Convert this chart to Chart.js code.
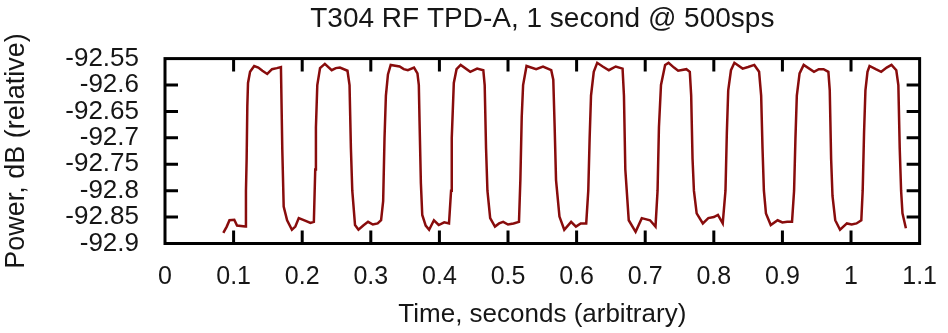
<!DOCTYPE html>
<html>
<head>
<meta charset="utf-8">
<script src="https://cdn.jsdelivr.net/npm/chart.js@4/dist/chart.umd.min.js"></script>
<style>
  html, body { margin: 0; padding: 0; background: #ffffff; }
  #wrap { width: 948px; height: 333px; }
</style>
</head>
<body>
<div id="wrap"><canvas id="c" width="948" height="333"></canvas></div>
<script>
// ---- data ----
const chartTitle = 'T304 RF TPD-A, 1 second @ 500sps';
const xAxisTitle = 'Time, seconds (arbitrary)';
const yAxisTitle = 'Power, dB (relative)';

const xTickValues = [0, 0.1, 0.2, 0.3, 0.4, 0.5, 0.6, 0.7, 0.8, 0.9, 1, 1.1];
const xTickLabels = ['0', '0.1', '0.2', '0.3', '0.4', '0.5', '0.6', '0.7', '0.8', '0.9', '1', '1.1'];
const yTickValues = [-92.9, -92.85, -92.8, -92.75, -92.7, -92.65, -92.6, -92.55];
const yTickLabels = ['-92.9', '-92.85', '-92.8', '-92.75', '-92.7', '-92.65', '-92.6', '-92.55'];

const timeSec = [
  0.085, 0.090, 0.094, 0.101, 0.105, 0.117, 0.118, 0.119, 0.120, 0.121, 0.124, 0.130, 0.136, 0.142, 0.149, 0.156, 0.163, 0.169,
  0.171, 0.173, 0.178, 0.185, 0.190, 0.195, 0.205, 0.212, 0.217, 0.219, 0.220, 0.222, 0.226, 0.233, 0.243, 0.249, 0.255, 0.266,
  0.269, 0.271, 0.273, 0.277, 0.282, 0.289, 0.296, 0.303, 0.310, 0.315, 0.318, 0.320, 0.322, 0.325, 0.329, 0.342, 0.348, 0.354,
  0.363, 0.368, 0.370, 0.371, 0.373, 0.375, 0.380, 0.385, 0.392, 0.399, 0.407, 0.414, 0.417, 0.418, 0.421, 0.425, 0.431, 0.445,
  0.455, 0.464, 0.466, 0.468, 0.470, 0.474, 0.481, 0.487, 0.493, 0.500, 0.508, 0.516, 0.518, 0.520, 0.522, 0.527, 0.541, 0.551,
  0.563, 0.566, 0.568, 0.570, 0.575, 0.582, 0.592, 0.599, 0.606, 0.614, 0.617, 0.619, 0.621, 0.625, 0.630, 0.638, 0.647, 0.657,
  0.667, 0.669, 0.671, 0.676, 0.686, 0.695, 0.707, 0.715, 0.718, 0.720, 0.723, 0.729, 0.734, 0.742, 0.748, 0.760, 0.765, 0.767,
  0.769, 0.771, 0.775, 0.784, 0.792, 0.800, 0.806, 0.813, 0.817, 0.819, 0.821, 0.825, 0.830, 0.842, 0.850, 0.859, 0.866, 0.869,
  0.871, 0.873, 0.876, 0.883, 0.893, 0.900, 0.907, 0.914, 0.917, 0.919, 0.921, 0.925, 0.931, 0.946, 0.953, 0.960, 0.967, 0.969,
  0.971, 0.973, 0.977, 0.984, 0.994, 1.001, 1.008, 1.015, 1.017, 1.019, 1.021, 1.024, 1.027, 1.036, 1.044, 1.052, 1.059, 1.066,
  1.069, 1.071, 1.073, 1.075, 1.080
];
const powerDb = [
  -92.880, -92.868, -92.856, -92.855, -92.866, -92.868, -92.800, -92.740, -92.640, -92.596, -92.575, -92.564, -92.567, -92.573, -92.579, -92.570, -92.568, -92.566,
  -92.723, -92.830, -92.856, -92.874, -92.868, -92.852, -92.857, -92.861, -92.859, -92.760, -92.680, -92.600, -92.568, -92.560, -92.572, -92.568, -92.567, -92.573,
  -92.600, -92.720, -92.800, -92.865, -92.874, -92.866, -92.859, -92.864, -92.862, -92.856, -92.820, -92.700, -92.620, -92.580, -92.562, -92.565, -92.570, -92.572,
  -92.567, -92.578, -92.600, -92.666, -92.786, -92.846, -92.866, -92.874, -92.856, -92.865, -92.860, -92.862, -92.800, -92.700, -92.596, -92.570, -92.562, -92.575,
  -92.569, -92.572, -92.600, -92.720, -92.800, -92.852, -92.868, -92.862, -92.859, -92.864, -92.862, -92.859, -92.780, -92.660, -92.600, -92.564, -92.570, -92.565,
  -92.572, -92.590, -92.680, -92.780, -92.849, -92.874, -92.859, -92.868, -92.862, -92.862, -92.800, -92.700, -92.620, -92.575, -92.558, -92.565, -92.572, -92.565,
  -92.569, -92.620, -92.760, -92.856, -92.878, -92.852, -92.856, -92.868, -92.800, -92.680, -92.600, -92.562, -92.558, -92.567, -92.573, -92.570, -92.575, -92.620,
  -92.740, -92.800, -92.843, -92.862, -92.852, -92.850, -92.846, -92.862, -92.800, -92.690, -92.610, -92.572, -92.558, -92.569, -92.566, -92.562, -92.575, -92.620,
  -92.720, -92.800, -92.843, -92.865, -92.856, -92.860, -92.859, -92.859, -92.800, -92.700, -92.620, -92.578, -92.562, -92.575, -92.570, -92.570, -92.575, -92.610,
  -92.740, -92.810, -92.856, -92.874, -92.862, -92.864, -92.862, -92.856, -92.800, -92.690, -92.610, -92.575, -92.564, -92.570, -92.575, -92.567, -92.562, -92.572,
  -92.600, -92.720, -92.800, -92.843, -92.871
];

// ---- drawing ----
const textColor = '#161616';
const lineColor = '#880c0c';
const fontFamily = "'Liberation Sans', Arial, sans-serif";

const boxAndTicks = {
  id: 'boxAndTicks',
  afterDatasetsDraw(chart) {
    const { ctx, chartArea: a, scales } = chart;
    const len = 13;
    ctx.save();
    ctx.strokeStyle = '#000000';
    ctx.lineWidth = 3;
    ctx.beginPath();
    scales.x.ticks.forEach(t => {
      const px = scales.x.getPixelForValue(t.value);
      if (px <= a.left + 1 || px >= a.right - 1) return;
      ctx.moveTo(px, a.bottom); ctx.lineTo(px, a.bottom - len);
      ctx.moveTo(px, a.top); ctx.lineTo(px, a.top + len);
    });
    scales.y.ticks.forEach(t => {
      const py = scales.y.getPixelForValue(t.value);
      if (py <= a.top + 1 || py >= a.bottom - 1) return;
      ctx.moveTo(a.left, py); ctx.lineTo(a.left + len, py);
      ctx.moveTo(a.right, py); ctx.lineTo(a.right - len, py);
    });
    ctx.stroke();
    ctx.strokeRect(a.left, a.top, a.right - a.left, a.bottom - a.top);
    ctx.restore();
  }
};

new Chart(document.getElementById('c'), {
  type: 'line',
  data: {
    datasets: [{
      data: timeSec.map((t, i) => ({ x: t, y: powerDb[i] })),
      borderColor: lineColor,
      borderWidth: 2.5,
      pointRadius: 0,
      tension: 0,
      fill: false
    }]
  },
  options: {
    responsive: false,
    animation: false,
    devicePixelRatio: 1,
    layout: { padding: { left: 0, right: 21, top: 0, bottom: 0 } },
    plugins: {
      legend: { display: false },
      tooltip: { enabled: false },
      title: {
        display: true,
        text: chartTitle,
        fullSize: false,
        color: textColor,
        font: { family: fontFamily, size: 28, weight: 'normal' },
        padding: { top: 2, bottom: 23 }
      }
    },
    scales: {
      x: {
        type: 'linear',
        min: 0,
        max: 1.1,
        afterBuildTicks: s => { s.ticks = xTickValues.map(v => ({ value: v })); },
        afterFit: s => { s.height = 89.5; },
        grid: { display: false },
        border: { display: false },
        ticks: {
          autoSkip: false,
          maxRotation: 0,
          padding: 11,
          color: textColor,
          font: { family: fontFamily, size: 25 },
          callback: (v, i) => xTickLabels[i]
        },
        title: {
          display: true,
          text: xAxisTitle,
          color: textColor,
          font: { family: fontFamily, size: 26 },
          padding: { top: 0, bottom: 3 }
        }
      },
      y: {
        type: 'linear',
        min: -92.9,
        max: -92.55,
        afterBuildTicks: s => { s.ticks = yTickValues.map(v => ({ value: v })); },
        afterFit: s => { s.width = 165; },
        grid: { display: false },
        border: { display: false },
        ticks: {
          autoSkip: false,
          padding: 18,
          color: textColor,
          font: { family: fontFamily, size: 26 },
          callback: (v, i) => yTickLabels[i]
        },
        title: {
          display: true,
          text: yAxisTitle,
          color: textColor,
          font: { family: fontFamily, size: 27 },
          padding: { top: 0, bottom: 0 }
        }
      }
    }
  },
  plugins: [boxAndTicks]
});
</script>
</body>
</html>
